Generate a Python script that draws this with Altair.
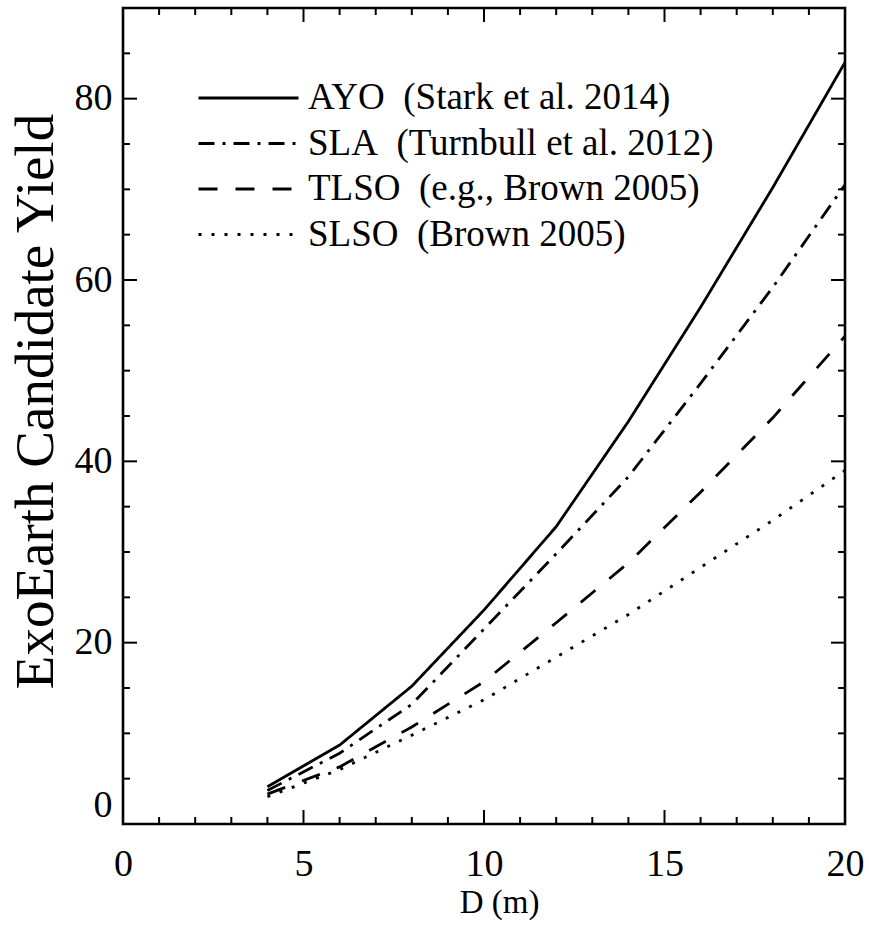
import altair as alt
import pandas as pd

# ---- data ----
D = [4, 6, 8, 10, 12, 14, 16, 18, 20]
AYO = [4.1, 8.7, 15.2, 23.6, 32.8, 44.4, 57.0, 70.2, 84.0]
SLA = [3.7, 7.8, 13.2, 21.5, 29.8, 38.3, 48.6, 59.2, 70.5]
TLSO = [3.3, 6.3, 10.7, 15.7, 22.2, 28.8, 36.6, 44.8, 53.8]
SLSO = [3.0, 6.0, 9.8, 13.7, 18.4, 23.1, 28.3, 33.5, 39.0]

series_labels = [
    "AYO\u2002(Stark et al. 2014)",
    "SLA\u2002(Turnbull et al. 2012)",
    "TLSO\u2002(e.g., Brown 2005)",
    "SLSO\u2002(Brown 2005)",
]
series_values = [AYO, SLA, TLSO, SLSO]

x_major = [0, 5, 10, 15, 20]
x_minor = [v for v in range(0, 21) if v % 5 != 0]
y_major = [0, 20, 40, 60, 80]
y_minor = [v for v in range(5, 90, 5) if v % 20 != 0]

rows = []
for lab, vals in zip(series_labels, series_values):
    for d, v in zip(D, vals):
        rows.append({"D": d, "yield": v, "series": lab})
df = pd.DataFrame(rows)

W, H = 722, 816
FONT = "Liberation Serif"
xscale = alt.Scale(domain=[0, 20], nice=False, zero=False)
yscale = alt.Scale(domain=[0, 90], nice=False, zero=False)

x_axis = alt.Axis(
    values=x_major, format="d", title="D (m)", grid=False, domain=False,
    ticks=False, tickSize=0, labelFont=FONT, labelFontSize=38,
    labelColor="black", labelPadding=51, labelBaseline="alphabetic",
    labelFlush=False, labelOverlap=False,
    titleFont=FONT, titleFontSize=33, titleFontWeight="normal",
    titleColor="black", titleX=376, titleY=88,
    titleBaseline="alphabetic", titleAlign="center",
)
y_axis = alt.Axis(
    values=y_major, format="d", title="ExoEarth Candidate Yield",
    grid=False, domain=False, ticks=False, tickSize=0,
    labelFont=FONT, labelFontSize=38, labelColor="black",
    labelPadding=11, labelFlush=True, labelOverlap=False,
    titleFont=FONT, titleFontSize=55, titleFontWeight="normal",
    titleColor="black", titleAngle=270, titleX=-71, titleY=393,
    titleBaseline="alphabetic", titleAlign="center",
)

lines = alt.Chart(df).mark_line(color="black", strokeWidth=2.8).encode(
    x=alt.X("D:Q", scale=xscale, axis=x_axis),
    y=alt.Y("yield:Q", scale=yscale, axis=y_axis),
    strokeDash=alt.StrokeDash(
        "series:N",
        scale=alt.Scale(
            domain=series_labels,
            range=[[1, 0], [16, 8, 3, 8], [19, 18], [3, 10]],
        ),
        legend=alt.Legend(
            title=None, orient="none", legendX=74, legendY=70, padding=0,
            symbolType="stroke", symbolSize=10000, symbolStrokeWidth=2.8,
            symbolStrokeColor="black", labelFont=FONT, labelFontSize=37,
            labelColor="black", labelOffset=8, clipHeight=40,
            rowPadding=5.5, labelLimit=700,
        ),
    ),
    order=alt.Order("D:Q"),
)


def xticks(values, length):
    d = pd.DataFrame({"v": values})
    bottom = alt.Chart(d).mark_rule(color="black", strokeWidth=2).encode(
        x=alt.X("v:Q", scale=xscale, axis=x_axis),
        y=alt.value(H), y2=alt.value(H - length),
    )
    top = alt.Chart(d).mark_rule(color="black", strokeWidth=2).encode(
        x=alt.X("v:Q", scale=xscale, axis=x_axis),
        y=alt.value(0), y2=alt.value(length),
    )
    return [bottom, top]


def yticks(values, length):
    d = pd.DataFrame({"v": values})
    left = alt.Chart(d).mark_rule(color="black", strokeWidth=2).encode(
        y=alt.Y("v:Q", scale=yscale, axis=y_axis),
        x=alt.value(0), x2=alt.value(length),
    )
    right = alt.Chart(d).mark_rule(color="black", strokeWidth=2).encode(
        y=alt.Y("v:Q", scale=yscale, axis=y_axis),
        x=alt.value(W), x2=alt.value(W - length),
    )
    return [left, right]


layers = [lines] + xticks(x_major, 14) + xticks(x_minor, 7) + yticks(y_major, 14) + yticks(y_minor, 7)

chart = alt.layer(*layers).properties(
    width=W,
    height=H,
    autosize=alt.AutoSizeParams(type="none"),
    padding={"left": 123, "top": 8, "right": 24, "bottom": 102},
    background="white",
).configure_view(
    stroke="black", strokeWidth=2.6
)

chart.save("out.html", embed_options={"renderer": "svg", "actions": False})
